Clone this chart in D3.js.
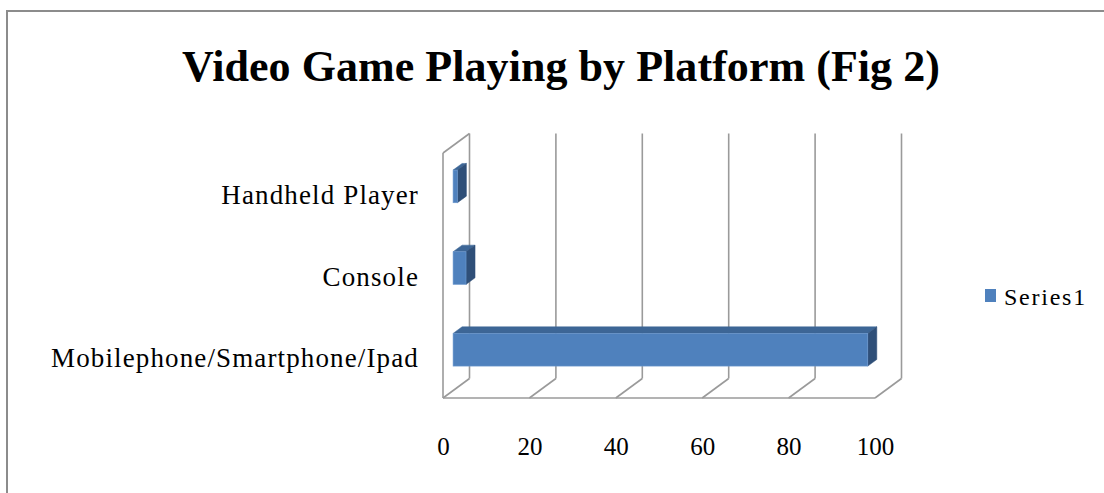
<!DOCTYPE html>
<html>
<head>
<meta charset="utf-8">
<script src="https://cdn.jsdelivr.net/npm/d3@7"></script>
<style>
  html, body { margin: 0; padding: 0; background: #fff; }
  svg { display: block; }
</style>
</head>
<body>
<svg id="chart" width="1104" height="493"></svg>
<script>
// Data
const categories = ["Mobilephone/Smartphone/Ipad", "Console", "Handheld Player"];
const values = [96, 3, 1];
const xTicks = [0, 20, 40, 60, 80, 100];
const seriesName = "Series1";
const titleText = "Video Game Playing by Platform (Fig 2)";

const svg = d3.select("#chart");
const W = 1104, H = 493;

// Outer chart frame (top and left edges visible)
svg.append("rect").attr("x", 7).attr("y", 11).attr("width", W + 10).attr("height", H + 10)
  .attr("fill", "#fff").attr("stroke", "#8c8c8c").attr("stroke-width", 2);

// Plot geometry: front plane + depth offset for the 3D look
const front = { left: 443, right: 875, top: 153, bottom: 398 };
const depth = { dx: 26.5, dy: -19.5 };
const gridColor = "#9a9a9a";

const x = d3.scaleLinear().domain([0, 100]).range([front.left, front.right]);
// Categories listed bottom-to-top
const y = d3.scaleBand().domain(categories).range([front.bottom, front.top])
  .paddingInner(0.6).paddingOuter(0.3);

const grid = svg.append("g").attr("fill", "none").attr("stroke", gridColor).attr("stroke-width", 1.6);

// Back wall gridlines
xTicks.forEach(t => {
  grid.append("line")
    .attr("x1", x(t) + depth.dx).attr("x2", x(t) + depth.dx)
    .attr("y1", front.top + depth.dy).attr("y2", front.bottom + depth.dy);
});
// Floor diagonals
xTicks.forEach(t => {
  grid.append("line")
    .attr("x1", x(t)).attr("y1", front.bottom)
    .attr("x2", x(t) + depth.dx).attr("y2", front.bottom + depth.dy);
});
// Floor front edge
grid.append("line").attr("x1", x(0)).attr("x2", x(100))
  .attr("y1", front.bottom).attr("y2", front.bottom);
// Side wall front edge and top diagonal
grid.append("line").attr("x1", x(0)).attr("x2", x(0))
  .attr("y1", front.top).attr("y2", front.bottom);
grid.append("line").attr("x1", x(0)).attr("y1", front.top)
  .attr("x2", x(0) + depth.dx).attr("y2", front.top + depth.dy);

// Bars: prisms sitting partway into the depth
const f0 = 0.38, f1 = 0.72;
const fill = { front: "#4f81bd", top: "#3d6696", side: "#2f4f78" };
const bars = svg.append("g");
categories.forEach((c, i) => {
  const v = values[i];
  const ox = depth.dx * f0, oy = depth.dy * f0;
  const ex = depth.dx * (f1 - f0), ey = depth.dy * (f1 - f0);
  const x0 = x(0) + ox, x1 = x(v) + ox;
  const y0 = y(c) + oy, y1 = y(c) + y.bandwidth() + oy;
  // top face
  bars.append("path")
    .attr("d", `M${x0},${y0} L${x0 + ex},${y0 + ey} L${x1 + ex},${y0 + ey} L${x1},${y0} Z`)
    .attr("fill", fill.top).attr("stroke", fill.top).attr("stroke-width", 0.5);
  // end face
  bars.append("path")
    .attr("d", `M${x1},${y0} L${x1 + ex},${y0 + ey} L${x1 + ex},${y1 + ey} L${x1},${y1} Z`)
    .attr("fill", fill.side).attr("stroke", fill.side).attr("stroke-width", 0.5);
  // front face
  bars.append("rect")
    .attr("x", x0).attr("y", y0).attr("width", Math.max(0, x1 - x0)).attr("height", y1 - y0)
    .attr("fill", fill.front).attr("stroke", "#6f9ad0").attr("stroke-width", 0.6);
});

const serif = "'Liberation Serif', 'Times New Roman', serif";

// Spread letters so a text spans the given width
function fitSpacing(sel, target) {
  const node = sel.node();
  const n = node.getNumberOfChars();
  const w = node.getComputedTextLength();
  sel.attr("letter-spacing", ((target - w) / n).toFixed(2));
}

// Category labels
const catLabels = svg.append("g")
  .attr("font-family", serif).attr("font-size", 27).attr("fill", "#000")
  .attr("text-anchor", "end");
categories.forEach(c => {
  catLabels.append("text")
    .attr("x", 419).attr("y", y(c) + y.bandwidth() / 2 + 10)
    .text(c);
});
{
  const longest = d3.max(catLabels.selectAll("text").nodes(), n => n.getComputedTextLength());
  const ls = ((368 - longest) / categories[0].length).toFixed(2);
  catLabels.attr("letter-spacing", ls);
}

// Value axis labels
const xAxis = svg.append("g").attr("transform", `translate(0,${front.bottom})`)
  .call(d3.axisBottom(x).tickValues(xTicks).tickSize(0).tickPadding(0));
xAxis.select(".domain").remove();
xAxis.selectAll("text")
  .attr("font-family", serif).attr("font-size", 25).attr("fill", "#000")
  .attr("dy", 0).attr("y", 57);

// Title
const title = svg.append("text")
  .attr("x", 561).attr("y", 81).attr("text-anchor", "middle")
  .attr("font-family", serif).attr("font-weight", "bold")
  .attr("font-size", 44).attr("fill", "#000")
  .text(titleText);
{
  const w = title.node().getComputedTextLength();
  if (w > 758) title.attr("font-size", (44 * 758 / w).toFixed(2));
  else fitSpacing(title, 758);
}

// Legend
const legend = svg.append("g");
legend.append("rect").attr("x", 985).attr("y", 289).attr("width", 11).attr("height", 13)
  .attr("fill", fill.front);
const legendText = legend.append("text").attr("x", 1004).attr("y", 305)
  .attr("font-family", serif).attr("font-size", 24).attr("fill", "#000")
  .text(seriesName);
fitSpacing(legendText, 83);
</script>
</body>
</html>
